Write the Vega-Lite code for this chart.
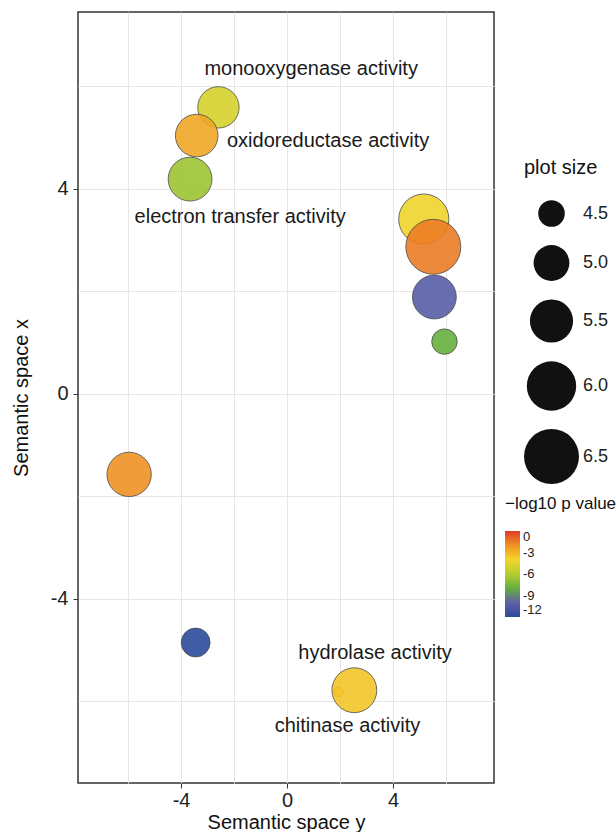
{
  "$schema": "https://vega.github.io/schema/vega-lite/v6.json",
  "width": 416,
  "height": 771,
  "autosize": {"type": "none"},
  "padding": {"left": 78, "top": 12, "right": 122, "bottom": 49},
  "background": "white",
  "config": {
    "view": {"stroke": "#333333", "strokeWidth": 1.5},
    "font": "Liberation Sans"
  },
  "datasets": {
    "points": [
      {"term": "monooxygenase activity", "sy": -2.59, "sx": 5.59, "plot_size": 5.37, "logp": -5.0},
      {"term": "oxidoreductase activity", "sy": -3.41, "sx": 5.04, "plot_size": 5.46, "logp": -2.6},
      {"term": "electron transfer activity", "sy": -3.66, "sx": 4.19, "plot_size": 5.55, "logp": -6.6},
      {"term": "term 4", "sy": 5.16, "sx": 3.41, "plot_size": 6.07, "logp": -4.2},
      {"term": "term 5", "sy": 5.52, "sx": 2.87, "plot_size": 6.5, "logp": -1.5},
      {"term": "term 6", "sy": 5.56, "sx": 1.89, "plot_size": 5.55, "logp": -10.3},
      {"term": "term 7", "sy": 5.94, "sx": 1.02, "plot_size": 4.45, "logp": -7.9},
      {"term": "term 8", "sy": -5.96, "sx": -1.57, "plot_size": 5.59, "logp": -2.0},
      {"term": "term 9", "sy": -3.45, "sx": -4.85, "plot_size": 4.61, "logp": -12.0},
      {"term": "chitinase activity", "sy": 1.94, "sx": -5.81, "plot_size": 3.97, "logp": -3.5},
      {"term": "hydrolase activity", "sy": 2.54, "sx": -5.78, "plot_size": 5.63, "logp": -3.5}
    ],
    "labels": [
      {"label": "monooxygenase activity", "lx": 0.91, "ly": 6.34},
      {"label": "oxidoreductase activity", "lx": 1.55, "ly": 4.94},
      {"label": "electron transfer activity", "lx": -1.77, "ly": 3.45},
      {"label": "hydrolase activity", "lx": 3.32, "ly": -5.05},
      {"label": "chitinase activity", "lx": 2.28, "ly": -6.48}
    ]
  },
  "layer": [
    {
      "data": {"name": "points"},
      "mark": {"type": "circle", "fillOpacity": 0.9, "stroke": "#4a4a4a", "strokeWidth": 0.8, "strokeOpacity": 1},
      "encoding": {
        "x": {
          "field": "sy", "type": "quantitative", "title": "Semantic space y",
          "scale": {"domain": [-7.89, 7.81], "nice": false, "zero": false},
          "axis": {
            "values": [-6, -4, -2, 0, 2, 4, 6],
            "labelExpr": "datum.value % 4 === 0 ? '' + datum.value : ''",
            "domain": false,
            "gridColor": "#e6e6e6",
            "gridWidth": 1,
            "tickColor": {"condition": {"test": "datum.value % 4 === 0", "value": "#333333"}, "value": "transparent"},
            "tickSize": 5,
            "labelFontSize": 20,
            "labelColor": "#222222",
            "labelPadding": 2,
            "titleFontSize": 20,
            "titleFontWeight": "normal",
            "titleColor": "#111111",
            "titlePadding": 2
          }
        },
        "y": {
          "field": "sx", "type": "quantitative", "title": "Semantic space x",
          "scale": {"domain": [-7.59, 7.45], "nice": false, "zero": false},
          "axis": {
            "values": [-6, -4, -2, 0, 2, 4, 6],
            "labelExpr": "datum.value % 4 === 0 ? '' + datum.value : ''",
            "domain": false,
            "gridColor": "#e6e6e6",
            "gridWidth": 1,
            "tickColor": {"condition": {"test": "datum.value % 4 === 0", "value": "#333333"}, "value": "transparent"},
            "tickSize": 5,
            "labelFontSize": 20,
            "labelColor": "#222222",
            "labelPadding": 5,
            "titleFontSize": 20,
            "titleFontWeight": "normal",
            "titleColor": "#111111",
            "titlePadding": 19
          }
        },
        "size": {
          "field": "plot_size", "type": "quantitative", "title": "plot size",
          "scale": {"domain": [3.89, 6.5], "range": [0, 3019], "zero": false},
          "legend": {
            "orient": "none",
            "legendX": 446,
            "legendY": 146,
            "values": [4.5, 5.0, 5.5, 6.0, 6.5],
            "format": ".1f",
            "symbolFillColor": "#111111",
            "symbolStrokeWidth": 0,
            "symbolOpacity": 1,
            "titleFontSize": 20,
            "titleFontWeight": "normal",
            "titleColor": "#111111",
            "titlePadding": 22,
            "labelFontSize": 18,
            "labelColor": "#222222",
            "labelOffset": 4,
            "rowPadding": 18
          }
        },
        "color": {
          "field": "logp", "type": "quantitative", "title": "−log10 p value",
          "scale": {
            "domain": [-12, -10, -8, -6, -4, -2, 0],
            "range": ["#2b4b9c", "#6060a8", "#62af3e", "#b6cc30", "#f4d62a", "#ee9224", "#e23b28"],
            "interpolate": "rgb"
          },
          "legend": {
            "orient": "none",
            "legendX": 427,
            "legendY": 484,
            "values": [0, -3, -6, -9, -12],
            "labelExpr": "'' + datum.value",
            "gradientLength": 86,
            "gradientThickness": 15,
            "gradientStrokeWidth": 0,
            "titleFontSize": 17,
            "titleFontWeight": "normal",
            "titleColor": "#111111",
            "titlePadding": 18,
            "labelFontSize": 13,
            "labelColor": "#222222",
            "labelOffset": 3,
            "labelOverlap": false
          }
        }
      }
    },
    {
      "data": {"name": "labels"},
      "mark": {"type": "text", "fontSize": 20, "color": "#1a1a1a", "font": "Liberation Sans"},
      "encoding": {
        "x": {"field": "lx", "type": "quantitative"},
        "y": {"field": "ly", "type": "quantitative"},
        "text": {"field": "label", "type": "nominal"}
      }
    }
  ]
}
